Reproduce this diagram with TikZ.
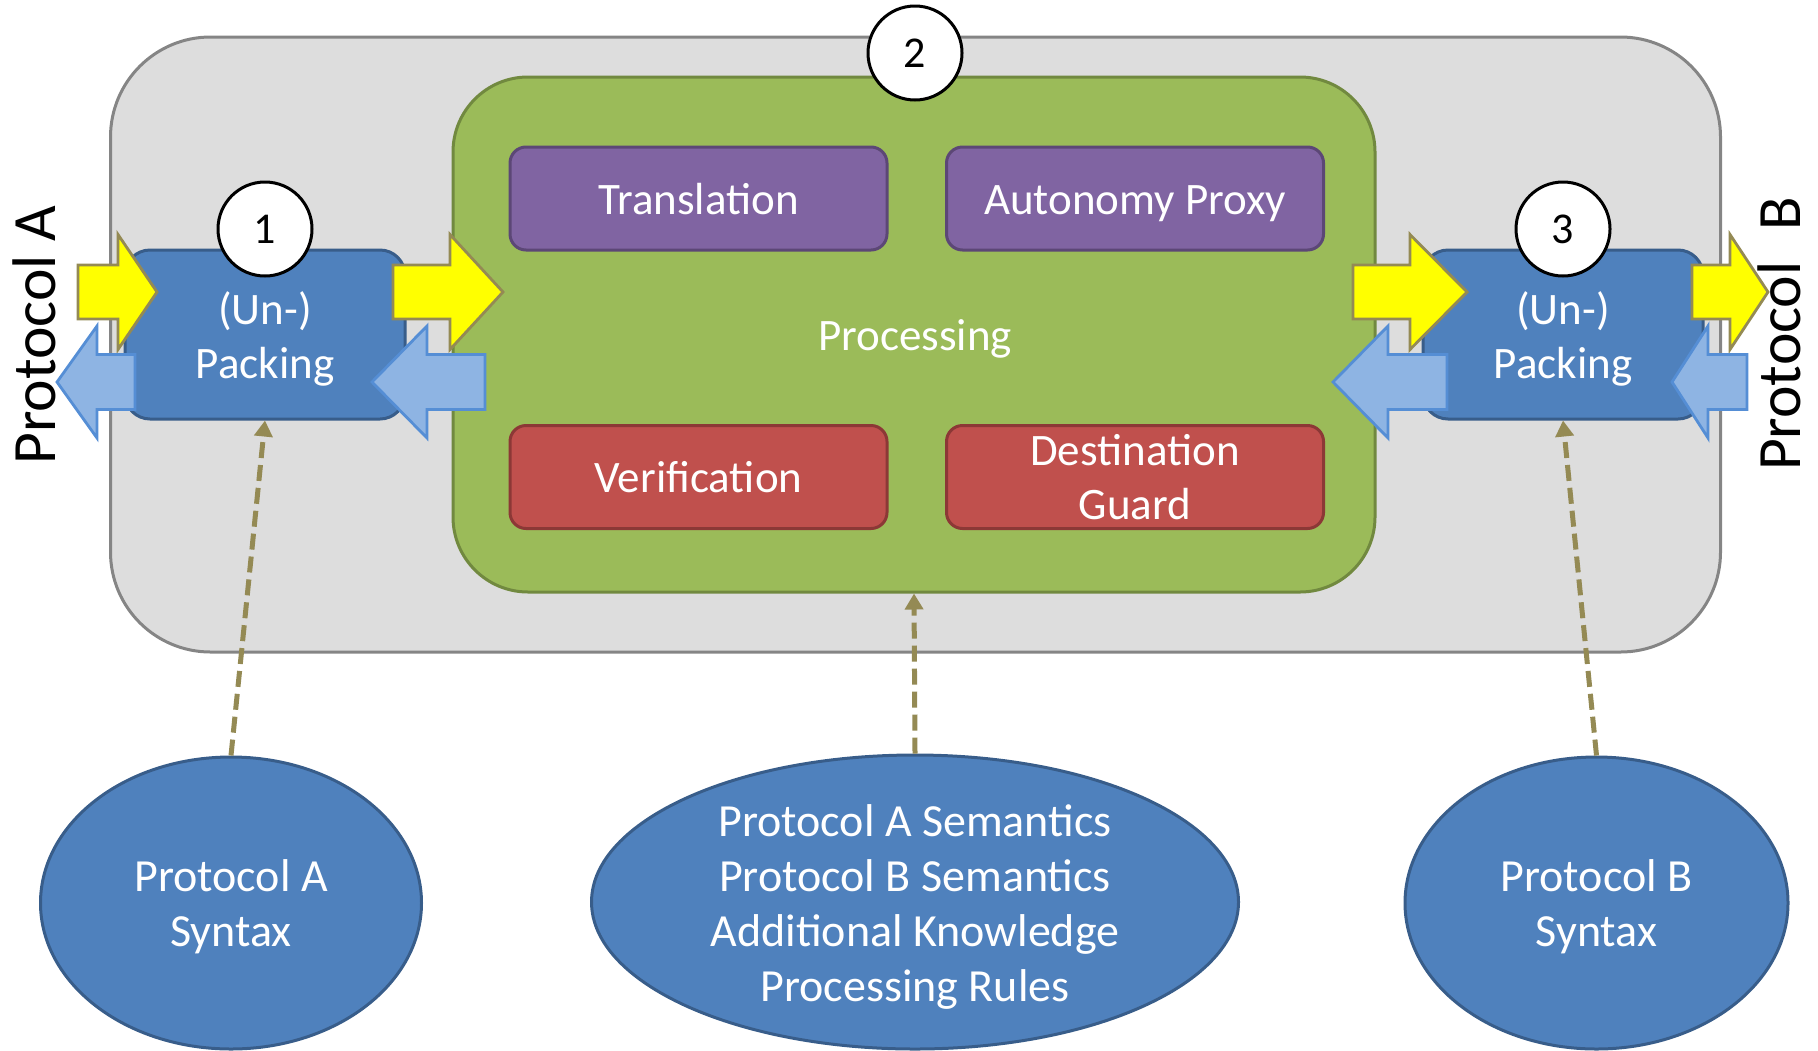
\documentclass[tikz,border=0pt]{standalone}
\usepackage{fontspec}
\setmainfont{Carlito}
\usetikzlibrary{arrows.meta,shapes.geometric}

\definecolor{grayfill}{HTML}{DDDDDD}
\definecolor{grayline}{HTML}{858585}
\definecolor{greenfill}{HTML}{9BBB59}
\definecolor{greenline}{HTML}{71893F}
\definecolor{purplefill}{HTML}{8064A2}
\definecolor{purpleline}{HTML}{5C4776}
\definecolor{redfill}{HTML}{C0504D}
\definecolor{redline}{HTML}{8C3836}
\definecolor{bluefill}{HTML}{4F81BD}
\definecolor{blueline}{HTML}{385D8A}
\definecolor{flowyellow}{HTML}{FFFF00}
\definecolor{oliveline}{HTML}{948A54}
\definecolor{lightblue}{HTML}{8EB4E3}
\definecolor{lightblueline}{HTML}{558ED5}

% block arrow: style, tail x, neck x, tip x, centre y, shaft half height, head half height
\newcommand\flowarrow[7]{%
  \draw[#1] (#2,#5-#6) -- (#3,#5-#6) -- (#3,#5-#7) -- (#4,#5)
    -- (#3,#5+#7) -- (#3,#5+#6) -- (#2,#5+#6) -- cycle;}

\begin{document}
\begin{tikzpicture}[x=0.5pt,y=-0.5pt,
  boxtext/.style={text=white, font=\fontsize{22.5}{27}\selectfont, align=center},
  task/.style={boxtext, rounded corners=8pt, line width=1.5pt, inner sep=0pt,
    minimum width=188.5pt, minimum height=51.5pt},
  oneline/.style={text height=15.7pt, text depth=0pt},
  purpletask/.style={task, fill=purplefill, draw=purpleline},
  redtask/.style={task, fill=redfill, draw=redline},
  packer/.style={fill=bluefill, draw=blueline, line width=1.5pt,
    rounded corners=12.5pt, inner sep=0pt, minimum width=140pt, minimum height=84.5pt},
  stepmark/.style={circle, draw=black, fill=white, line width=1.5pt, inner sep=0pt,
    minimum size=47pt, font=\fontsize{22}{24}\selectfont},
  knowledge/.style={ellipse, fill=bluefill, draw=blueline, line width=1.5pt, inner sep=0pt},
  knowtext/.style={text=white, font=\fontsize{23}{27.5}\selectfont, align=center},
  sidelabel/.style={rotate=90, anchor=base, inner sep=0pt, font=\fontsize{30.8}{36}\selectfont},
  dep/.style={draw=oliveline, line width=2.5pt, dash pattern=on 8pt off 3.5pt,
    -{Triangle[length=8pt,width=9pt]}},
  fwd/.style={fill=flowyellow, draw=oliveline, line width=1.4pt},
  bwd/.style={fill=lightblue, draw=lightblueline, line width=1.4pt},
]
\useasboundingbox (0,0) rectangle (1818,1050);

% gateway frame and processing stage
\node[draw=grayline, fill=grayfill, line width=1.5pt, rounded corners=50pt, inner sep=0pt,
  minimum width=805pt, minimum height=307.5pt] (gateway) at (915.5,344.5) {};
\node[draw=greenline, fill=greenfill, line width=1.5pt, rounded corners=37.5pt, inner sep=0pt,
  minimum width=461pt, minimum height=257.5pt] (proc) at (914,334.5) {};
\node[boxtext] (proclabel) at (915,339) {Processing};

\node[purpletask, oneline] (transl) at (698.5,198.5) {Translation};
\node[purpletask, oneline] (autoproxy) at (1135,198.5) {Autonomy Proxy};
\node[redtask, oneline] (verif) at (698.5,477) {Verification};
\node[redtask] (guard) at (1135,477) {Destination\\Guard};

% packing stages
\node[packer] (packA) at (265,334.5) {};
\node[boxtext] (packAtext) at (265,339) {(Un-)\\Packing};
\node[packer] (packB) at (1563,334.5) {};
\node[boxtext] (packBtext) at (1563,339) {(Un-)\\Packing};

% message flow arrows
\flowarrow{fwd}{78}{118}{157}{292}{27}{57.5}
\flowarrow{fwd}{393}{450}{503}{292}{27}{57.5}
\flowarrow{fwd}{1353}{1410}{1467}{292}{27}{57.5}
\flowarrow{fwd}{1692}{1730}{1768}{292}{27}{57.5}
\flowarrow{bwd}{135}{97}{57}{382}{27.5}{56}
\flowarrow{bwd}{485}{427}{372}{382}{27.5}{56}
\flowarrow{bwd}{1447}{1388}{1333}{382}{27.5}{56}
\flowarrow{bwd}{1747}{1708}{1672}{382}{27.5}{56}

% step numbers
\node[stepmark] (s1) at (265,229) {1};
\node[stepmark] (s2) at (915,53) {2};
\node[stepmark] (s3) at (1563,229) {3};

% protocol sides
\node[sidelabel] (protA) at (55,335) {Protocol A};
\node[sidelabel] (protB) at (1800,334) {Protocol\hspace{0.5em}B};

% knowledge sources
\node[knowledge, minimum width=190.5pt, minimum height=146pt] (ellA) at (231,903) {};
\node[knowtext] (ellAtext) at (231,907) {Protocol A\\Syntax};
\node[knowledge, minimum width=323.5pt, minimum height=147pt] (ellC) at (915,902) {};
\node[knowtext] (ellCtext) at (915,907) {Protocol A Semantics\\Protocol B Semantics\\Additional Knowledge\\Processing Rules};
\node[knowledge, minimum width=191.5pt, minimum height=146pt] (ellB) at (1596.5,903) {};
\node[knowtext] (ellBtext) at (1596.5,907) {Protocol B\\Syntax};

\draw[dep] (ellA.north) -- (packA.south);
\draw[dep] (ellC.north) -- (proc.south);
\draw[dep] (ellB.north) -- (packB.south);
\end{tikzpicture}
\end{document}
